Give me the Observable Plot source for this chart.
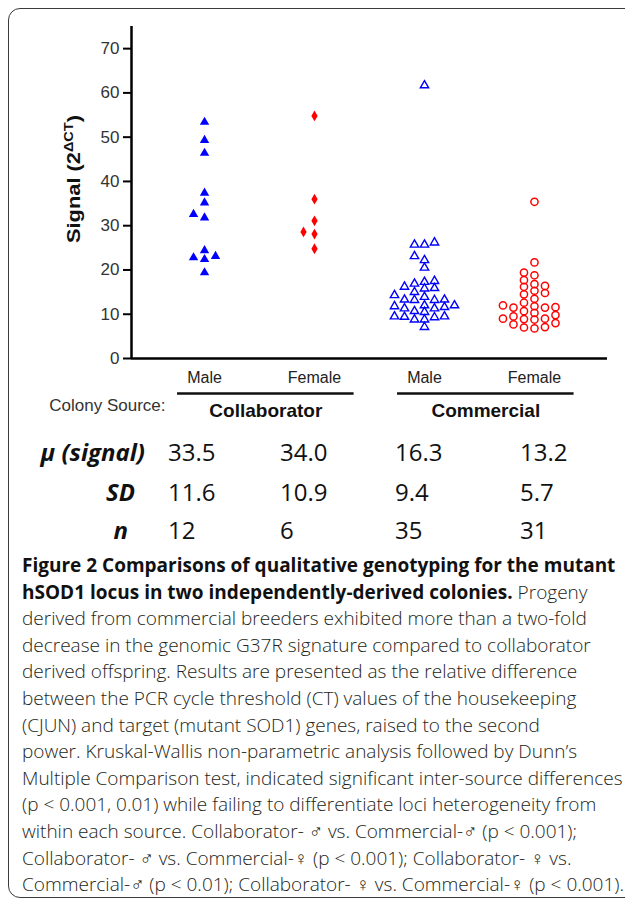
<!DOCTYPE html>
<html><head><meta charset="utf-8">
<script src="https://cdn.jsdelivr.net/npm/d3@7"></script>
<script src="https://cdn.jsdelivr.net/npm/@observablehq/plot@0.6"></script>
<style>
html,body{margin:0;padding:0;background:#fff}
body{width:625px;height:905px;overflow:hidden;position:relative;font-family:"Open Sans",sans-serif}
#frame{position:absolute;left:8px;top:8px;width:720px;height:890px;border:1.5px solid #3a3a3a;border-radius:12px;box-sizing:border-box}
#chart{position:absolute;left:0;top:0}
.cell{position:absolute;white-space:nowrap;transform:translateY(-50%);font-size:24px;color:#111;line-height:30px}
.lab{font-weight:700;font-style:italic;text-align:right}
#caption{position:absolute;left:22px;top:552px;font-size:19px;line-height:26.6px;color:#231f20;font-weight:300}
#caption div{white-space:nowrap}
#caption b{font-weight:700;color:#111}
</style></head><body>
<div id="frame"></div>
<div id="chart"></div>
<div id="table"></div>
<div id="caption"></div>
<script>
// ---- data ----
const groups = ["Collaborator Male", "Collaborator Female", "Commercial Male", "Commercial Female"];
const sexLabels = ["Male", "Female", "Male", "Female"];
const sources = ["Collaborator", "Commercial"];
const collabMale = [53.4, 49.3, 46.4, 37.4, 35.2, 32.6, 31.8, 24.4, 23.1, 22.8, 22.4, 19.4];
const collabFemale = [54.8, 36.0, 31.1, 28.6, 28.1, 24.8];
const commMale = [61.7, 26.2, 25.7, 25.7, 23.1, 22.2, 20.5, 17.5, 17.3, 16.9, 16.2, 15.9, 15.8, 15.0, 14.3, 13.9, 13.3, 13.3, 13.2, 13.2, 12.0, 12.0, 11.8, 11.6, 11.3, 11.3, 10.7, 10.5, 9.5, 9.5, 9.4, 9.3, 8.8, 8.8, 7.1];
const commFemale = [35.4, 21.7, 19.4, 18.8, 17.7, 16.8, 16.4, 16.2, 15.3, 14.8, 14.5, 13.5, 12.6, 12.0, 11.8, 11.6, 11.5, 11.5, 10.7, 10.3, 9.8, 9.5, 9.0, 9.0, 8.9, 8.8, 8.0, 7.7, 7.1, 7.0, 6.8];
const yTicks = [0, 10, 20, 30, 40, 50, 60, 70];
const statLabels = ["μ (signal)", "SD", "n"];
const means = ["33.5", "34.0", "16.3", "13.2"];
const sds = ["11.6", "10.9", "9.4", "5.7"];
const ns = ["12", "6", "35", "31"];
const captionLines = [
  [["b", "Figure 2 Comparisons of qualitative genotyping for the mutant"]],
  [["b", "hSOD1 locus in two independently-derived colonies."], ["r", " Progeny"]],
  [["r", "derived from commercial breeders exhibited more than a two-fold"]],
  [["r", "decrease in the genomic G37R signature compared to collaborator"]],
  [["r", "derived offspring. Results are presented as the relative difference"]],
  [["r", "between the PCR cycle threshold (CT) values of the housekeeping"]],
  [["r", "(CJUN) and target (mutant SOD1) genes, raised to the second"]],
  [["r", "power. Kruskal-Wallis non-parametric analysis followed by Dunn’s"]],
  [["r", "Multiple Comparison test, indicated significant inter-source differences"]],
  [["r", "(p < 0.001, 0.01) while failing to differentiate loci heterogeneity from"]],
  [["r", "within each source. Collaborator- ♂ vs. Commercial-♂ (p < 0.001);"]],
  [["r", "Collaborator- ♂ vs. Commercial-♀ (p < 0.001); Collaborator- ♀ vs."]],
  [["r", "Commercial-♂ (p < 0.01); Collaborator- ♀ vs. Commercial-♀ (p < 0.001)."]]
];

// ---- layout ----
const W = 625, H = 430;
const mL = 131, mR = 18, mT = 26, mB = 72;
const xDomain = [-0.664, 3.664];
const yDomain = [0, 75];
const pxPerX = (W - mL - mR) / (xDomain[1] - xDomain[0]);
const yScale = Plot.scale({y: {domain: yDomain, range: [H - mB, mT]}});

// column-scatter placement (GraphPad style): spread close values sideways
function spread(values, gi, slotPx, minDy) {
  const sorted = values.map(v => ({v, py: yScale.apply(v)})).sort((a, b) => a.v - b.v);
  const placed = [];
  const order = [0, -1, 1, -2, 2, -3, 3, -4, 4];
  for (const p of sorted) {
    for (const k of order) {
      if (!placed.some(q => q.k === k && Math.abs(q.py - p.py) < minDy)) {
        placed.push({...p, k}); break;
      }
    }
  }
  return placed.map(p => ({g: gi, v: p.v, x: gi + p.k * slotPx / pxPerX}));
}
const pts = [
  spread(collabMale, 0, 11, 8.5),
  spread(collabFemale, 1, 11, 8.5),
  spread(commMale, 2, 10, 6),
  spread(commFemale, 3, 10.5, 6)
];

const plot = Plot.plot({
  width: W, height: H,
  marginLeft: mL, marginRight: mR, marginTop: mT, marginBottom: mB,
  x: {domain: xDomain, axis: null},
  y: {domain: yDomain, axis: null},
  style: {fontFamily: "'Liberation Sans', Arial, sans-serif", fontSize: "15px", background: "transparent", overflow: "visible"},
  marks: [
    Plot.axisY({ticks: yTicks, tickSize: 8, label: null, stroke: "#000", strokeWidth: 2, tickFormat: () => ""}),
    Plot.text(yTicks, {x: () => xDomain[0], y: d => d, dx: -12, textAnchor: "end", text: d => String(d), fontSize: 17, fill: "#333"}),
    Plot.ruleX([xDomain[0]], {y1: 0, y2: yDomain[1], strokeWidth: 2.5, stroke: "#000"}),
    Plot.ruleY([0], {strokeWidth: 2.5, stroke: "#000"}),
    Plot.dot(pts[0], {x: "x", y: "v", symbol: "triangle", fill: "#0000ff", r: 3.5}),
    Plot.dot(pts[1], {x: "x", y: "v", symbol: "diamond", fill: "#ff0000", r: 3.3}),
    Plot.dot(pts[2], {x: "x", y: "v", symbol: "triangle", fill: "none", stroke: "#0000ff", strokeWidth: 1.4, r: 3.1}),
    Plot.dot(pts[3], {x: "x", y: "v", symbol: "circle", fill: "none", stroke: "#ff0000", strokeWidth: 1.5, r: 3.6}),
    Plot.text(groups, {x: (d, i) => i, y: () => 0, dy: 19, text: (d, i) => sexLabels[i], fontSize: 16, fill: "#222"}),
    Plot.ruleY(sources, {y: () => 0, dy: 35, x1: (d, i) => 2 * i - 0.245, x2: (d, i) => 2 * i + 1.36, strokeWidth: 2.5, stroke: "#111"}),
    Plot.text(sources, {x: (d, i) => 2 * i + 0.5575, y: () => 0, dy: 52, text: d => d, fontSize: 19, fontWeight: "bold", fill: "#111"}),
    Plot.text(["Colony Source:"], {frameAnchor: "bottom-left", dx: 34, dy: 52, textAnchor: "end", fontSize: 17, fill: "#333"})
  ]
});
document.getElementById("chart").appendChild(plot);

// y-axis title with superscript
const yt = d3.select(plot).append("text")
  .attr("transform", "translate(80,179) rotate(-90)")
  .attr("text-anchor", "middle")
  .attr("font-family", "'Liberation Sans', Arial, sans-serif")
  .attr("font-weight", "bold")
  .attr("font-size", 18)
  .attr("fill", "#111")
  .attr("textLength", 128)
  .attr("lengthAdjust", "spacingAndGlyphs");
yt.append("tspan").text("Signal (2");
yt.append("tspan").attr("dy", -7).attr("font-size", 12).text("ΔCT");
yt.append("tspan").attr("dy", 7).text(")");

// stats table
const table = document.getElementById("table");
const rowY = [452, 492, 530];
const labRight = [145, 135, 128];
const colX = [168, 280, 395, 520];
const rows = [means, sds, ns];
statLabels.forEach((lab, r) => {
  const d = document.createElement("div");
  d.className = "cell lab";
  d.style.right = (W - labRight[r]) + "px";
  d.style.top = rowY[r] + "px";
  d.textContent = lab;
  table.appendChild(d);
  rows[r].forEach((val, c) => {
    const e = document.createElement("div");
    e.className = "cell";
    e.style.left = colX[c] + "px";
    e.style.top = rowY[r] + "px";
    e.textContent = val;
    table.appendChild(e);
  });
});

// caption
const cap = document.getElementById("caption");
captionLines.forEach(parts => {
  const line = document.createElement("div");
  parts.forEach(([kind, txt]) => {
    const s = document.createElement(kind === "b" ? "b" : "span");
    s.textContent = txt;
    line.appendChild(s);
  });
  cap.appendChild(line);
});
</script>
</body></html>
